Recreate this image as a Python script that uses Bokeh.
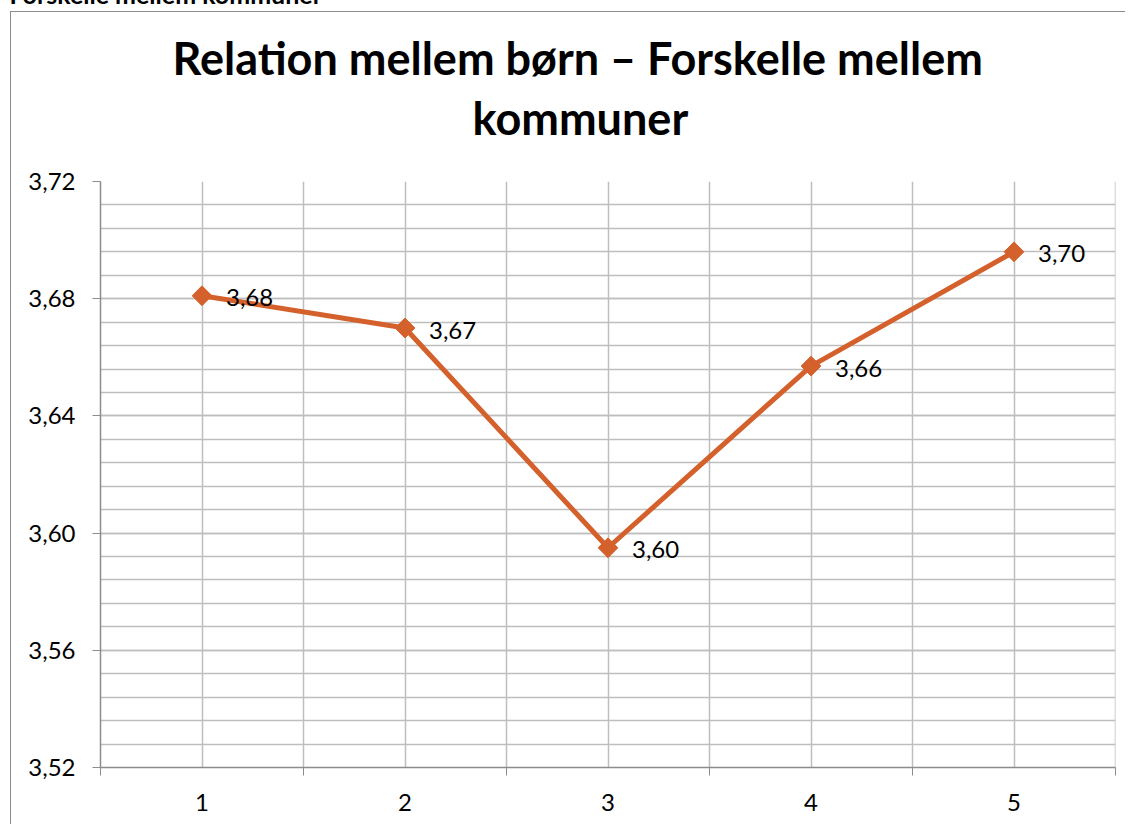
import numpy as np
from bokeh.plotting import figure
from bokeh.models import Range1d, FixedTicker, Title
from bokeh.core.properties import value
from bokeh.embed import file_html
from bokeh.resources import INLINE

# ---- data ----
categories = [1, 2, 3, 4, 5]
values = [3.681, 3.670, 3.595, 3.657, 3.696]
value_labels = ["3,68", "3,67", "3,60", "3,66", "3,70"]
y_ticks = [3.52, 3.56, 3.60, 3.64, 3.68, 3.72]
y_tick_labels = ["3,52", "3,56", "3,60", "3,64", "3,68", "3,72"]
title_line1 = "Relation mellem børn – Forskelle mellem"
title_line2 = "kommuner"
page_heading = "Forskelle mellem kommuner"

FONT = "Lato"
LINE_COLOR = "#D4612B"
GRID = "#BEBEBE"
AXIS = "#8C8C8C"
BOX = "#8C8C8C"

X0, X1 = 0.5, 5.5
Y0, Y1 = 3.52, 3.72
SHIFT = 80  # canvas starts above the visible page top (cut-off heading)

bg = (f"linear-gradient({BOX},{BOX}) 10px {11 + SHIFT}px / 1px 100% no-repeat, "
      f"linear-gradient({BOX},{BOX}) 10px {11 + SHIFT}px / 100% 1px no-repeat, white")

p = figure(width=1125, height=824 + SHIFT, output_backend="svg", toolbar_location=None,
           x_range=Range1d(X0, X1), y_range=Range1d(Y0, Y1),
           min_border_left=100, min_border_top=181 + SHIFT, min_border_right=10,
           min_border_bottom=57,
           styles={"background": bg, "margin-top": f"-{SHIFT}px"})
p.outline_line_color = None
p.border_fill_color = None
p.background_fill_color = "white"
p.title.visible = False

# y axis
minor_y = [round(Y0 + 0.008 * i, 3) for i in range(26)]
p.yaxis.ticker = FixedTicker(ticks=y_ticks, minor_ticks=minor_y)
p.yaxis.major_label_overrides = {t: l for t, l in zip(y_ticks, y_tick_labels)}
p.yaxis.major_label_text_font = FONT
p.yaxis.major_label_text_font_size = "24px"
p.yaxis.major_label_text_color = "black"
p.yaxis.major_tick_out = 8
p.yaxis.major_tick_in = 0
p.yaxis.minor_tick_out = 0
p.yaxis.minor_tick_in = 0
p.yaxis.major_label_standoff = 17
p.yaxis.axis_line_color = AXIS
p.yaxis.major_tick_line_color = AXIS
p.yaxis.axis_line_width = 1.5

# x axis
bounds = [c - 0.5 for c in categories] + [categories[-1] + 0.5]
p.xaxis.ticker = FixedTicker(ticks=categories, minor_ticks=bounds)
p.xaxis.major_label_overrides = {c: str(c) for c in categories}
p.xaxis.major_label_text_font = FONT
p.xaxis.major_label_text_font_size = "24px"
p.xaxis.major_label_text_color = "black"
p.xaxis.major_tick_out = 0
p.xaxis.major_tick_in = 0
p.xaxis.minor_tick_out = 8
p.xaxis.minor_tick_in = 0
p.xaxis.minor_tick_line_color = AXIS
p.xaxis.major_label_standoff = 18
p.xaxis.axis_line_color = AXIS
p.xaxis.axis_line_width = 1.5

# grids
for g in (p.xgrid, p.ygrid):
    g.grid_line_color = GRID
    g.grid_line_width = 1.5
    g.minor_grid_line_color = GRID
    g.minor_grid_line_width = 1.5

# right border of plot area
p.line(x=[X1, X1], y=[Y0, Y1], line_color=GRID, line_width=1.5)

# series
p.line(x=categories, y=values, line_color=LINE_COLOR, line_width=5)
p.scatter(x=categories, y=values, marker="square", angle=np.pi / 4, size=14,
          fill_color=LINE_COLOR, line_color=LINE_COLOR)
p.text(x=categories, y=values, text=value_labels, x_offset=24, y_offset=2,
       text_font=value(FONT), text_font_size="24px", text_baseline="middle",
       text_align="left", text_color="black")

# two-line title (second line closest to the plot), then the cut-off page heading
p.add_layout(Title(text=title_line2, align="left", offset=372, standoff=74,
                   text_font=FONT, text_font_style="bold", text_font_size="45px",
                   text_color="black"), "above")
p.add_layout(Title(text=title_line1, align="left", offset=72, standoff=-67,
                   text_font=FONT, text_font_style="bold", text_font_size="45px",
                   text_color="black"), "above")
p.add_layout(Title(text=page_heading, align="left", offset=-91, standoff=85,
                   text_font=FONT, text_font_style="bold", text_font_size="25px",
                   text_color="black"), "above")

open("out.html", "w").write(file_html(p, INLINE))
